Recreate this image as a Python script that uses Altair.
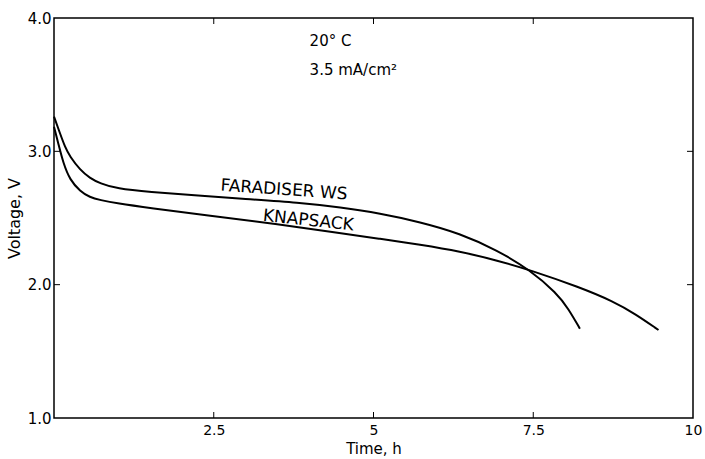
import altair as alt
import pandas as pd

# FARADISER WS curve
far_t = [0.0, 0.094, 0.17, 0.25, 0.41, 0.56, 0.72, 0.98, 1.5, 2.2, 2.91, 3.85, 4.48, 5.10, 5.73, 6.35, 6.93, 7.45, 7.87, 8.05, 8.23]
far_v = [3.26, 3.135, 3.035, 2.96, 2.86, 2.80, 2.76, 2.72, 2.695, 2.67, 2.645, 2.615, 2.58, 2.535, 2.47, 2.385, 2.26, 2.11, 1.935, 1.82, 1.67]

# KNAPSACK curve
kn_t = [0.0, 0.067, 0.146, 0.25, 0.41, 0.56, 0.72, 0.98, 1.5, 2.39, 3.43, 4.48, 5.10, 5.73, 6.35, 6.95, 7.45, 8.23, 8.75, 9.1, 9.46]
kn_v = [3.185, 3.06, 2.91, 2.785, 2.70, 2.655, 2.635, 2.61, 2.575, 2.52, 2.46, 2.385, 2.345, 2.30, 2.25, 2.18, 2.11, 1.98, 1.875, 1.78, 1.66]

x_ticks = [2.5, 5, 7.5, 10]
y_ticks = [1.0, 2.0, 3.0, 4.0]

W, H = 639, 400
FONT = "DejaVu Sans"

df = pd.concat([
    pd.DataFrame({"t": far_t, "v": far_v, "s": "FARADISER WS", "o": range(len(far_t))}),
    pd.DataFrame({"t": kn_t, "v": kn_v, "s": "KNAPSACK", "o": range(len(kn_t))}),
])

xs = alt.Scale(domain=[0, 10], nice=False, zero=False)
ys = alt.Scale(domain=[1, 4], nice=False, zero=False)

lines = alt.Chart(df).mark_line(color="black", strokeWidth=2, interpolate="basis").encode(
    x=alt.X("t:Q", scale=xs, title="Time, h",
            axis=alt.Axis(values=x_ticks, labelExpr="'' + datum.value", ticks=False, domain=False,
                          grid=False, labelFont=FONT, labelFontSize=14, labelColor="black",
                          titleFont=FONT, titleFontSize=15, titleFontWeight="normal", titleColor="black",
                          labelPadding=5, titlePadding=4, labelFlush=False)),
    y=alt.Y("v:Q", scale=ys, title="Voltage, V",
            axis=alt.Axis(values=y_ticks, format=".1f", ticks=False, domain=False, grid=False,
                          labelFont=FONT, labelFontSize=15, labelColor="black", labelPadding=3,
                          titleFont=FONT, titleFontSize=16, titleFontWeight="normal", titleColor="black",
                          titlePadding=5, labelFlush=False)),
    detail="s:N",
    order="o:Q",
)

xt = pd.DataFrame({"t": x_ticks[:-1]})
yt = pd.DataFrame({"v": y_ticks[1:-1]})

bottom_ticks = alt.Chart(xt).mark_rule(color="black", strokeWidth=1).encode(
    x=alt.X("t:Q", scale=xs), y=alt.value(H), y2=alt.value(H - 6))
top_ticks = alt.Chart(xt).mark_rule(color="black", strokeWidth=1).encode(
    x=alt.X("t:Q", scale=xs), y=alt.value(0), y2=alt.value(6))
left_ticks = alt.Chart(yt).mark_rule(color="black", strokeWidth=1).encode(
    y=alt.Y("v:Q", scale=ys), x=alt.value(0), x2=alt.value(6))
right_ticks = alt.Chart(yt).mark_rule(color="black", strokeWidth=1).encode(
    y=alt.Y("v:Q", scale=ys), x=alt.value(W - 6), x2=alt.value(W))

lab_text = ["FARADISER  WS", "KNAPSACK"]
lab_t = [3.6, 3.98]
lab_v = [2.71, 2.48]
lab_angle = [4, 6]

labels = alt.Chart(pd.DataFrame({"t": lab_t, "v": lab_v, "txt": lab_text, "a": lab_angle})).mark_text(
    font=FONT, fontSize=17, color="black", align="center", baseline="middle"
).encode(x=alt.X("t:Q", scale=xs), y=alt.Y("v:Q", scale=ys), text="txt:N",
         angle=alt.Angle("a:Q", scale=None))

note_text = ["20° C", "3.5 mA/cm²"]
note_t = [4.0, 4.0]
note_v = [3.83, 3.61]
notes = alt.Chart(pd.DataFrame({"t": note_t, "v": note_v, "txt": note_text})).mark_text(
    font=FONT, fontSize=15, color="black", align="left", baseline="middle"
).encode(x=alt.X("t:Q", scale=xs), y=alt.Y("v:Q", scale=ys), text="txt:N")

chart = alt.layer(lines, bottom_ticks, top_ticks, left_ticks, right_ticks, labels, notes).properties(
    width=W, height=H,
    autosize=alt.AutoSizeParams(type="none"),
    padding={"left": 54, "top": 18, "right": 12, "bottom": 41},
    background="white",
).configure_view(stroke="black", strokeWidth=1.5)

chart.save("out.html", embed_options={"renderer": "svg", "actions": False})
